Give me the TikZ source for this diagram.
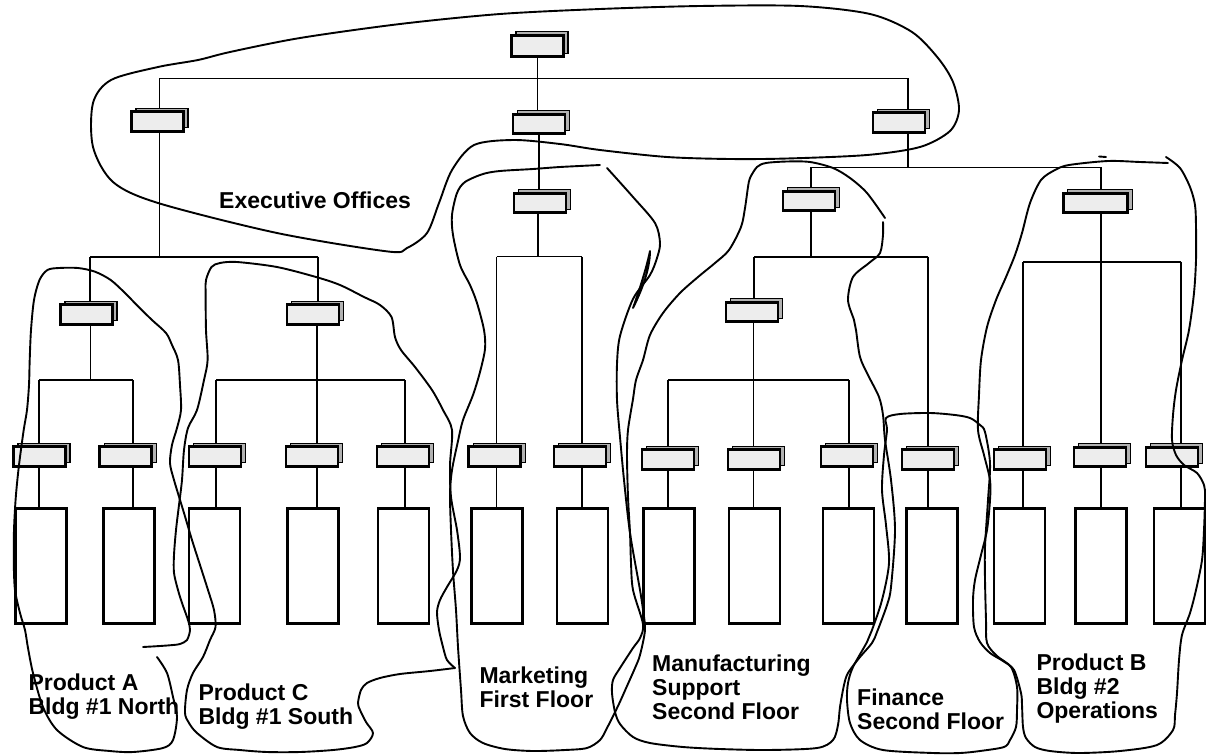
\documentclass[tikz,border=0pt]{standalone}
\usepackage{fontspec}
\setmainfont{Liberation Sans}
\usetikzlibrary{shadows,backgrounds}
\tikzset{
  unit/.style={draw, line width=2.6pt, fill=gray!14, minimum width=52pt, minimum height=19.5pt, inner sep=0pt,
     general shadow={fill=gray!60, draw=black, line width=1.3pt, shadow xshift=4.5pt, shadow yshift=3.5pt}},
  job/.style={draw, line width=2.6pt, fill=white, minimum width=51pt, minimum height=115.5pt, inner sep=0pt},
  conn/.style={line width=1.6pt},
  hand/.style={line width=1.9pt, line cap=round, line join=round},
  lbl/.style={font=\fontsize{23}{24}\selectfont\bfseries, align=left, inner sep=0pt, anchor=north west},
}
\begin{document}
\begin{tikzpicture}[x=1pt,y=-1pt]
\useasboundingbox (0,0) rectangle (1209,755);
% ---------- boxes ----------
\node[unit, minimum height=21.5pt] (top) at (537.5,46) {};
\node[unit] (l1a) at (157.5,121.5) {};
\node[unit] (l1b) at (539,124) {};
\node[unit] (l1c) at (899,122.5) {};
\node[unit] (mkt) at (540,203) {};
\node[unit] (mfg) at (809,201) {};
\node[unit, minimum width=64.5pt] (pb) at (1095.5,203) {};
\node[unit] (pa) at (86.5,314.5) {};
\node[unit] (pc) at (313,314.5) {};
\node[unit] (ms) at (752,312) {};
% level 3
\node[unit] (b1) at (39.5,456.5) {};
\node[unit] (b2) at (125.7,456.5) {};
\node[unit] (b3) at (215,456.5) {};
\node[unit] (b4) at (312,456.5) {};
\node[unit] (b5) at (403,456.5) {};
\node[unit] (b6) at (494.7,456.5) {};
\node[unit] (b7) at (580,456.5) {};
\node[unit] (b8) at (668,459.5) {};
\node[unit] (b9) at (754,459.5) {};
\node[unit] (b10) at (847,456.5) {};
\node[unit] (b11) at (928,459.5) {};
\node[unit] (b12) at (1020,459.5) {};
\node[unit] (b13) at (1100,457) {};
\node[unit] (b14) at (1172,457) {};
% job rectangles
\node[job] (r1) at (41,566) {};
\node[job] (r2) at (129,566) {};
\node[job] (r3) at (214.5,566) {};
\node[job] (r4) at (313,566) {};
\node[job] (r5) at (403.5,566) {};
\node[job] (r6) at (497,566) {};
\node[job] (r7) at (582.5,566) {};
\node[job] (r8) at (669,566) {};
\node[job] (r9) at (754.5,566) {};
\node[job] (r10) at (848.5,566) {};
\node[job] (r11) at (932,566) {};
\node[job] (r12) at (1019.5,566) {};
\node[job] (r13) at (1101,566) {};
\node[job] (r14) at (1179.5,566) {};
% ---------- junction coordinates ----------
\coordinate (j0L) at (159.4,78.3);
\coordinate (j0R) at (908,78.3);
\coordinate (j1) at (159.4,256.7);
\coordinate (j1L) at (90,256.7);
\coordinate (j1R) at (318,256.7);
\coordinate (j2) at (90.5,380);
\coordinate (j2L) at (39,380);
\coordinate (j2R) at (133,380);
\coordinate (j3) at (317,380);
\coordinate (j3L) at (216,380);
\coordinate (j3R) at (405,380);
\coordinate (j4) at (538,256.5);
\coordinate (j4L) at (496.5,256.5);
\coordinate (j4R) at (582,256.5);
\coordinate (j5) at (908,167.3);
\coordinate (j5L) at (811,167.3);
\coordinate (j5R) at (1101,167.3);
\coordinate (j6) at (811,256.7);
\coordinate (j6L) at (754,256.7);
\coordinate (j6R) at (928,256.7);
\coordinate (j7) at (753.5,380);
\coordinate (j7L) at (668,380);
\coordinate (j7R) at (849,380);
\coordinate (j8) at (1101,261.7);
\coordinate (j8L) at (1023,261.7);
\coordinate (j8R) at (1181,261.7);
% ---------- connectors ----------
\begin{scope}[on background layer]
\fill[white] (0,0) rectangle (1209,755);
\draw[conn] (top.south) -- (top.south |- l1b.north);
\draw[conn] (j0L) -- (j0R);
\draw[conn] (j0L) -- (j0L |- l1a.north);
\draw[conn] (j0R) -- (j0R |- l1c.north);
% left branch
\draw[conn] (j1 |- l1a.south) -- (j1);
\draw[conn] (j1L) -- (j1R);
\draw[conn] (j1L) -- (j1L |- pa.north);
\draw[conn] (j1R) -- (j1R |- pc.north);
\draw[conn] (j2 |- pa.south) -- (j2);
\draw[conn] (j2L) -- (j2R);
\draw[conn] (j2L) -- (j2L |- b1.north);
\draw[conn] (j2R) -- (j2R |- b2.north);
\draw[conn] (j3 |- pc.south) -- (j3);
\draw[conn] (j3L) -- (j3R);
\draw[conn] (j3L) -- (j3L |- b3.north);
\draw[conn] (j3) -- (j3 |- b4.north);
\draw[conn] (j3R) -- (j3R |- b5.north);
% middle branch
\draw[conn] (l1b.south) -- (l1b.south |- mkt.north);
\draw[conn] (j4 |- mkt.south) -- (j4);
\draw[conn] (j4L) -- (j4R);
\draw[conn] (j4L) -- (j4L |- b6.north);
\draw[conn] (j4R) -- (j4R |- b7.north);
% right branch
\draw[conn] (j5 |- l1c.south) -- (j5);
\draw[conn] (j5L) -- (j5R);
\draw[conn] (j5L) -- (j5L |- mfg.north);
\draw[conn] (j5R) -- (j5R |- pb.north);
\draw[conn] (j6 |- mfg.south) -- (j6);
\draw[conn] (j6L) -- (j6R);
\draw[conn] (j6L) -- (j6L |- ms.north);
\draw[conn] (j6R) -- (j6R |- b11.north);
\draw[conn] (j7 |- ms.south) -- (j7);
\draw[conn] (j7L) -- (j7R);
\draw[conn] (j7L) -- (j7L |- b8.north);
\draw[conn] (j7) -- (j7 |- b9.north);
\draw[conn] (j7R) -- (j7R |- b10.north);
\draw[conn] (j8 |- pb.south) -- (j8 |- b13.north);
\draw[conn] (j8L) -- (j8R);
\draw[conn] (j8L) -- (j8L |- b12.north);
\draw[conn] (j8R) -- (j8R |- b14.north);
% box to job rectangle
\draw[conn] (j2L |- b1.south) -- (j2L |- r1.north);
\draw[conn] (j2R |- b2.south) -- (j2R |- r2.north);
\draw[conn] (j3L |- b3.south) -- (j3L |- r3.north);
\draw[conn] (j3 |- b4.south) -- (j3 |- r4.north);
\draw[conn] (j3R |- b5.south) -- (j3R |- r5.north);
\draw[conn] (j4L |- b6.south) -- (j4L |- r6.north);
\draw[conn] (j4R |- b7.south) -- (j4R |- r7.north);
\draw[conn] (j7L |- b8.south) -- (j7L |- r8.north);
\draw[conn] (j7 |- b9.south) -- (j7 |- r9.north);
\draw[conn] (j7R |- b10.south) -- (j7R |- r10.north);
\draw[conn] (j6R |- b11.south) -- (j6R |- r11.north);
\draw[conn] (j8L |- b12.south) -- (j8L |- r12.north);
\draw[conn] (j8 |- b13.south) -- (j8 |- r13.north);
\draw[conn] (j8R |- b14.south) -- (j8R |- r14.north);
\end{scope}
% ---------- labels ----------
\node[lbl] (texec) at (219,192) {Executive Offices};
\node[lbl] (tpa) at (28.3,673.3) {Product A\\Bldg \#1 North};
\node[lbl] (tpc) at (198.3,683.3) {Product C\\Bldg \#1 South};
\node[lbl] (tmkt) at (479.3,666.6) {Marketing\\First Floor};
\node[lbl] (tmfg) at (652,655) {Manufacturing\\Support\\Second Floor};
\node[lbl] (tfin) at (857,688.3) {Finance\\Second Floor};
\node[lbl] (tpb) at (1036.3,653.3) {Product B\\Bldg \#2\\Operations};
% ---------- freehand outlines ----------
% Executive Offices
\draw[hand] plot[smooth cycle] coordinates {(388,251.5) (407,248) (427,233) (439,203) (452,170) (474,145) (514,140) (560,144) (600,150) (667,157) (730,159) (787,158.5) (867,155) (920,147) (950,131) (959,110) (953,82) (938,58) (912,32) (870,14) (800,6) (700,6) (600,9) (500,14) (400,24) (300,38) (230,52) (198,60) (158,67) (111,80) (93,103) (93,147) (113,182) (158,203) (277,233)};
% Marketing
\draw[hand] plot[smooth] coordinates {(600,165) (560,167) (533,169) (500,171) (483,174) (465,182) (457,193) (452,215) (453,235) (460,265) (470,285) (477,303) (484,330) (485,349) (480,372) (473,395) (463,420) (458,441) (452,470) (450,494) (451,530) (453,571) (456,610) (458,647) (461,690) (463,716) (470,733) (483,743) (505,749) (533,751) (565,750) (587,748) (600,740) (607,728) (618,706) (627,686) (635,668) (640,655) (645,630) (643,610) (640,590) (630,533) (624,480) (620,437) (617,400) (617,364) (620,336) (633,299) (650,275) (657,258) (660,243) (655,223) (633,197) (607,168)};
\draw[hand] (650,251) .. controls (646,270) and (638,294) .. (633,308) .. controls (641,292) and (650,270) .. (650,251);
% Manufacturing Support
\draw[hand] plot[smooth] coordinates {(885,218) (867,193) (850,178) (833,168) (810,162) (787,161.5) (766,163) (757,167) (750,178) (748,187) (745,208) (741,227) (729,250) (715,263) (698,277) (680,293) (663,313) (650,335) (643,360) (636,380) (633,399) (628,430) (627,456) (628,497) (630,533) (631,563) (633,590) (643,624) (640,638) (633,648) (620,668) (613,680) (612,693) (615,712) (620,724) (633,737) (650,743) (683,747) (720,749) (767,750) (817,748) (833,740) (838,725) (840,707) (844,685) (848,673) (860,657) (872,643) (877,632) (887,605) (891,587) (895,530) (891,480) (885,440) (883,415) (879,397) (868,375) (860,357) (856,330) (854,320) (848,300) (853,277) (869,263) (880,253) (883,235) (883,222)};
% Finance
\draw[hand] plot[smooth cycle] coordinates {(886,418) (900,414) (930,413) (955,415) (970,418) (980,425) (985,432) (990,463) (988,500) (985,547) (985,580) (986,620) (987,643) (997,656) (1011,667) (1017,687) (1017,710) (1016,727) (1010,740) (1004,747) (980,751) (960,753) (933,753) (883,750) (860,740) (850,723) (847,700) (848,683) (853,667) (867,642) (872,630) (882,600) (889,563) (886,525) (882,490) (884,455) (887,430)};
% Product B
\draw[hand] plot[smooth] coordinates {(1166,157) (1180,168) (1190,187) (1195,205) (1196,227) (1196,260) (1194,293) (1189,330) (1182,360) (1176,390) (1173,415) (1172,440) (1176,455) (1184,465) (1197,473) (1204,485) (1205,497) (1204,530) (1202,560) (1196,590) (1190,613) (1182,635) (1179,660) (1177,693) (1175,715) (1173,730) (1157,745) (1120,751) (1079,753) (1050,751) (1035,747) (1026,738) (1023,727) (1022,705) (1021,693) (1014,670) (1003,661) (990,653) (980,642) (974,627) (973,600) (975,580) (981,555) (987,530) (990,500) (990,480) (984,455) (978,430) (979,395) (981,360) (987,327) (996,300) (1006,277) (1015,255) (1022,233) (1030,203) (1041,180) (1055,170) (1069,165) (1108,161) (1140,162) (1168,163)};
\draw[hand] (1099,156.5) -- (1106,157);
% Product A and Product C (one stroke)
\draw[hand] plot[smooth] coordinates {(157,657) (167,673) (173,697) (177,717) (173,740) (163,748) (133,752) (110,751) (83,747) (57,730) (43,707) (33,673) (28,648) (25,630) (20,613) (15,590) (13.8,563) (14,530) (15.8,497) (19,465) (23.7,430) (27,410) (29,385) (29.7,360) (31,330) (34,300) (39.5,280) (47.4,270) (59,268) (78,268) (95,271.7) (110.7,280) (125,293) (138.4,306.7) (152,320) (166,333) (172,345) (178,360) (180,385) (181,410) (177,428) (172,445) (170,463) (174,480) (184,513) (192,540) (200,565) (208,590) (214,610) (215.5,627) (210,640) (203,657) (193,673) (187,690) (185,713) (189,723) (197,733) (217,747) (240,750) (267,752) (300,752) (333,750) (355,747) (367,743) (373,733) (366,722) (360,710) (358,703) (361,690) (367,683) (380,678) (400,674) (430,671) (455,668)};
\draw[hand] plot[smooth] coordinates {(455,668) (447,660) (443,647) (439,630) (437,612) (440,600) (447,587) (457,570) (460,557) (457,530) (451,497) (450,465) (452,430) (443,410) (432,390) (415,367) (401,350) (395,337) (391.5,317) (380,305) (364,297) (340,285) (316,277) (277,267) (237,262) (220,263) (211.5,267) (206,280) (205.6,293) (206,330) (207.6,360) (204,380) (197,410) (188,428) (184,450) (182,480) (179,505) (176,530) (174,555) (174,573) (178,590) (182,603) (188,620) (190,630) (187,640) (180,644) (173,645) (160,646) (143,647)};
\end{tikzpicture}
\end{document}
